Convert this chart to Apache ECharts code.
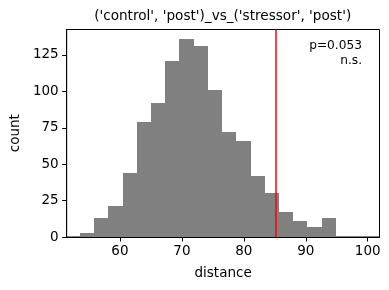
<!DOCTYPE html>
<html><head><meta charset="utf-8">
<script src="https://cdn.jsdelivr.net/npm/echarts@6/dist/echarts.min.js"></script>
<style>html,body{margin:0;padding:0;background:#fff}#c{width:389px;height:290px}</style>
</head><body><div id="c"></div>
<script>
const binEdges = [53.54, 55.84, 58.13, 60.43, 62.72, 65.02, 67.31, 69.61, 71.90, 74.20, 76.49, 78.79, 81.08, 83.38, 85.67, 87.97, 90.26, 92.56, 94.85, 97.15, 99.44];
const counts = [3, 13, 21, 44, 79, 92, 121, 136, 131, 101, 72, 66, 42, 30, 17, 11, 7, 13, 0, 1];
const observed = 85.2;
const xTicks = [60, 70, 80, 90, 100];
const yTicks = [0, 25, 50, 75, 100, 125];
const titleText = "('control', 'post')_vs_('stressor', 'post')";
const pText = "p=0.053";
const sigText = "n.s.";

const font = "DejaVu Sans";
const fs = 13.5;
const data = counts.map((c, i) => [binEdges[i], binEdges[i + 1], c]);
const chart = echarts.init(document.getElementById('c'), null, {renderer: 'canvas'});
chart.setOption({
  animation: false,
  backgroundColor: '#fff',
  textStyle: {fontFamily: font},
  grid: {left: 66, right: 9.5, top: 29.5, bottom: 53, show: true, borderColor: '#000', borderWidth: 1, backgroundColor: 'transparent'},
  xAxis: {type: 'value', min: 51.4, max: 101.9,
    name: 'distance', nameLocation: 'middle', nameGap: 29,
    nameTextStyle: {fontFamily: font, fontSize: fs, color: '#000'},
    axisLine: {show: true, lineStyle: {color: '#000', width: 1}},
    axisTick: {show: true, length: 4.5, lineStyle: {color: '#000'}, customValues: xTicks},
    axisLabel: {color: '#000', fontFamily: font, fontSize: fs, margin: 7, customValues: xTicks},
    splitLine: {show: false}},
  yAxis: {type: 'value', min: 0, max: 142.5,
    name: 'count', nameLocation: 'middle', nameGap: 43, nameRotate: 90,
    nameTextStyle: {fontFamily: font, fontSize: fs, color: '#000'},
    axisLine: {show: true, lineStyle: {color: '#000', width: 1}},
    axisTick: {show: true, length: 4.5, lineStyle: {color: '#000'}, customValues: yTicks},
    axisLabel: {color: '#000', fontFamily: font, fontSize: fs, margin: 8, customValues: yTicks},
    splitLine: {show: false}},
  series: [{
    type: 'custom',
    data: data,
    encode: {x: [0, 1], y: 2},
    renderItem: function (params, api) {
      const p0 = api.coord([api.value(0), 0]);
      const p1 = api.coord([api.value(1), api.value(2)]);
      const x0 = Math.round(p0[0]), x1 = Math.round(p1[0]);
      const yb = Math.round(p0[1]), yt = Math.round(p1[1]);
      return {type: 'rect', shape: {x: x0, y: yt, width: x1 - x0, height: yb - yt},
        style: {fill: '#808080'}};
    },
    markLine: {silent: true, symbol: 'none', label: {show: false},
      lineStyle: {color: '#ff0000', width: 1.5, type: 'solid'},
      data: [{xAxis: observed}]}
  }],
  graphic: [
    {type: 'text', x: 222.7, y: 16.5, style: {text: titleText, fontFamily: font, fontSize: 13.6, fill: '#000', textAlign: 'center', textVerticalAlign: 'middle'}},
    {type: 'text', x: 362, y: 45.5, style: {text: pText, fontFamily: font, fontSize: 12.2, fill: '#000', textAlign: 'right', textVerticalAlign: 'middle'}},
    {type: 'text', x: 362, y: 61, style: {text: sigText, fontFamily: font, fontSize: 12.2, fill: '#000', textAlign: 'right', textVerticalAlign: 'middle'}}
  ]
});
</script></body></html>
